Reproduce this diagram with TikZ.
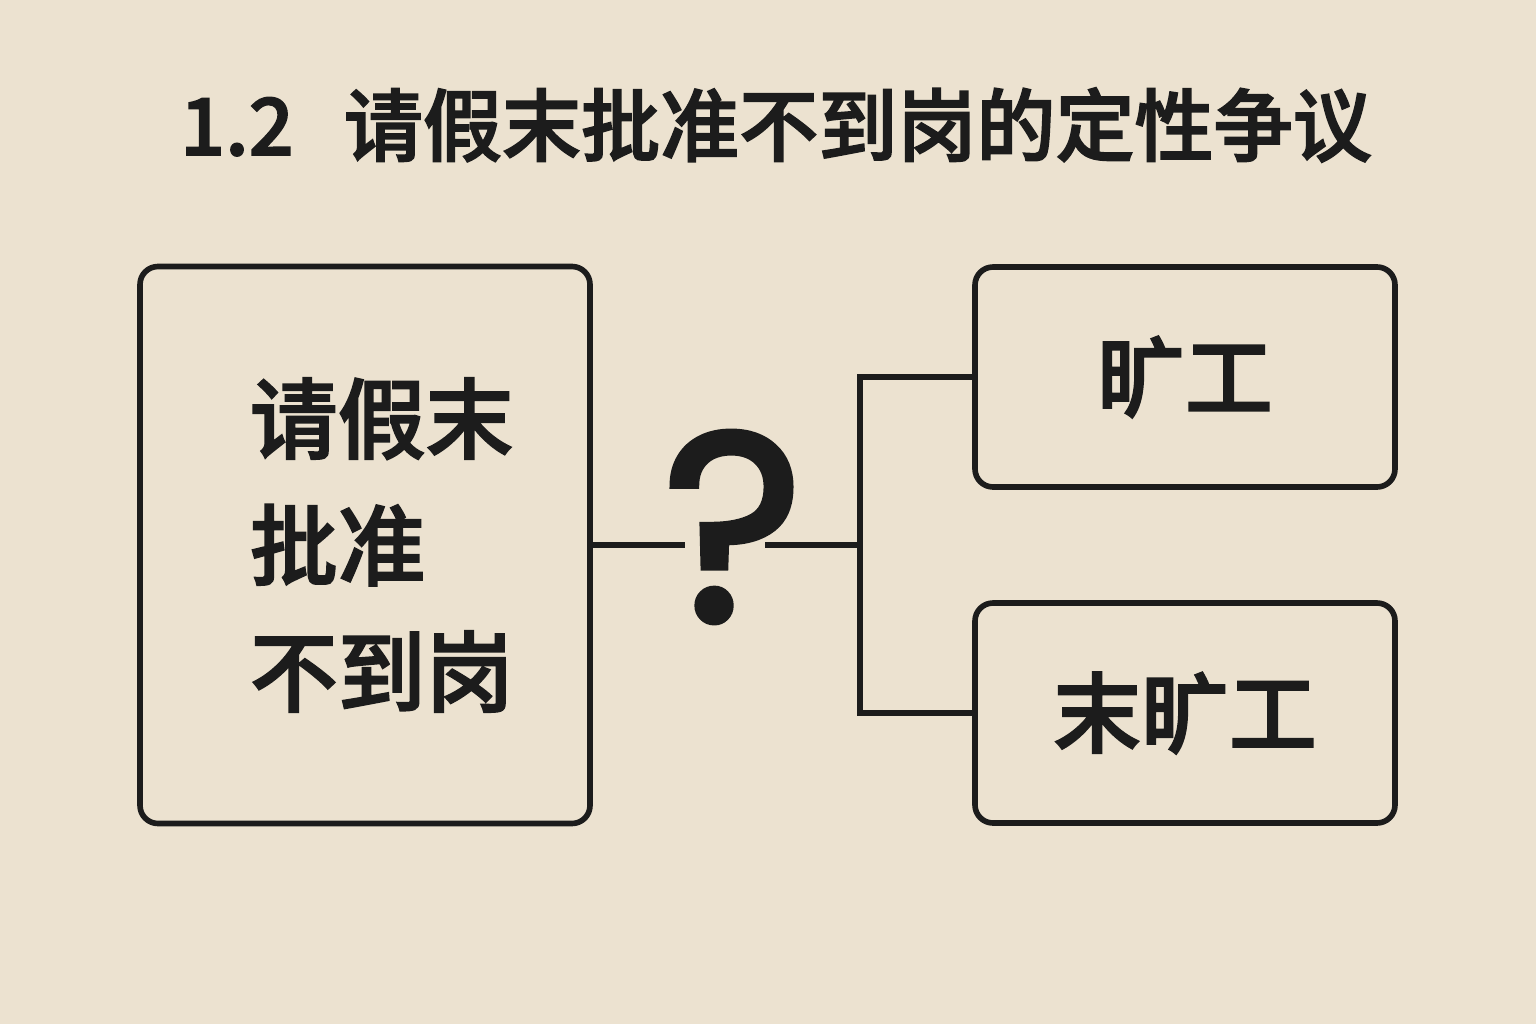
\documentclass[tikz,border=0pt]{standalone}
\usepackage{fontspec}
\newfontfamily\cjk{Noto Sans CJK SC}[BoldFont={Noto Sans CJK SC Medium}, BoldFeatures={FakeBold=2}]
\newfontfamily\qfont{Poppins}[FakeBold=2.5]
\usetikzlibrary{positioning}
\definecolor{paper}{RGB}{236,226,208}
\definecolor{ink}{RGB}{28,28,28}
\tikzset{box/.style={draw=ink, line width=1.6pt, rounded corners=0.18cm, minimum width=4.2cm, minimum height=2.2cm},
wire/.style={draw=ink, line width=1.6pt},
word/.style={text=ink, inner sep=0pt, font=\cjk\bfseries\fontsize{25}{36}\selectfont}}

\begin{document}
\begin{tikzpicture}[scale=1.0]%leave dispute
\fill[paper] (0,0) rectangle (15.36,10.24);
\useasboundingbox (0,0) rectangle (15.36,10.24);
\node[word, font=\cjk\bfseries\fontsize{22.5}{28}\selectfont] (title) at (7.76,8.99) {1.2\hspace{0.5cm}请假末批准不到岗的定性争议};
\node[box, minimum width=4.5cm, minimum height=5.57cm] (claim) at (3.65,4.79) {};
\node[word, align=left, right=1.12cm of claim.west] (claimtxt) {请假末\\批准\\不到岗};
\node[word, font=\qfont\fontsize{76}{80}\selectfont] (q) at (7.33,4.97) {?};
\node[box, word, inner sep=0pt] (absent) at (11.85,6.47) {旷工};
\node[box, word, inner sep=0pt] (notabsent) at (11.85,3.11) {末旷工};
\coordinate (fork) at (8.60,4.79);
\draw[wire, shorten >=0.48cm] (claim.east) -- (claim.east -| q);
\draw[wire, shorten <=0.32cm] (claim.east -| q) -- (fork);
\draw[wire] (absent.west) -| (fork) |- (notabsent.west);
\end{tikzpicture}
\end{document}
